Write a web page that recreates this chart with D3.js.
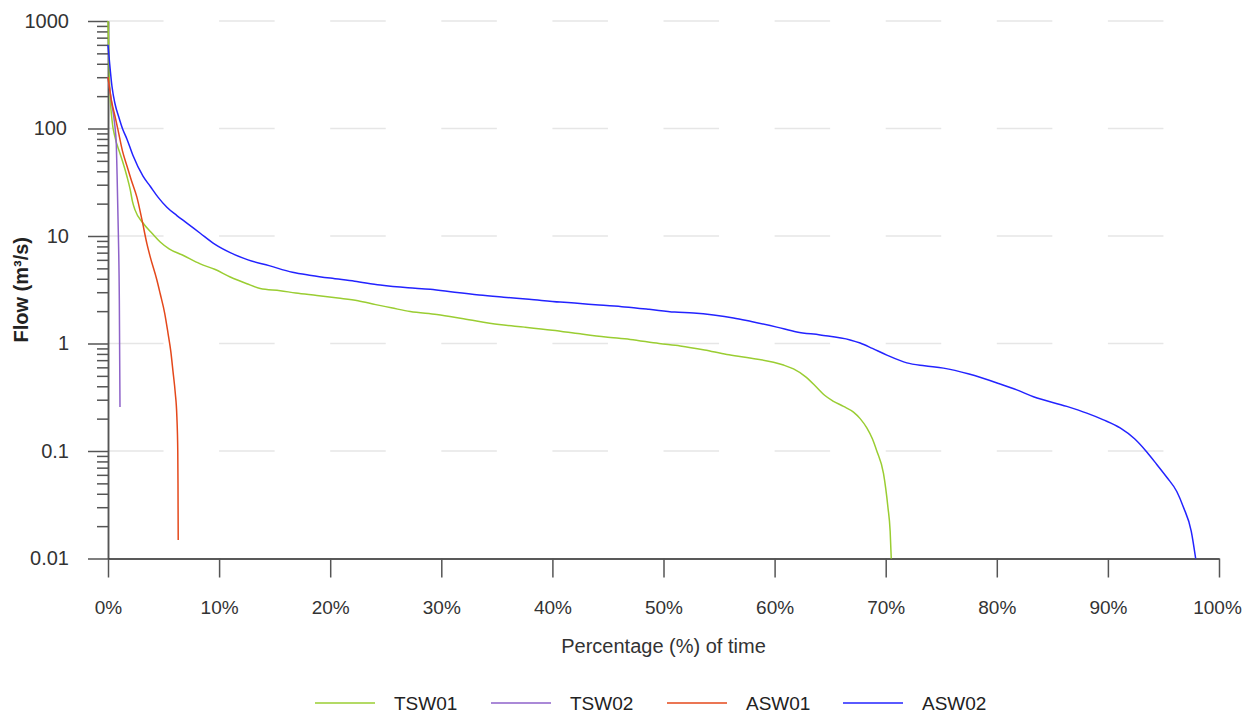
<!DOCTYPE html>
<html>
<head>
<meta charset="utf-8">
<script src="https://cdn.jsdelivr.net/npm/d3@7"></script>
<style>
  body { margin: 0; background: #fff; }
  svg { display: block; font-family: "Liberation Sans", Arial, sans-serif; }
</style>
</head>
<body>
<svg id="chart" width="1243" height="715"></svg>
<script>
/*
** Chart data (percentage of time exceeded, flow in m3/s)
*/
var seriesNames  = ["TSW01", "TSW02", "ASW01", "ASW02"];
var seriesColors = ["#9ACD32", "#8E62C9", "#E4481B", "#2323FF"];

var tsw01 = [
    [0, 1000], [0.05, 600], [0.15, 250], [0.36, 120], [0.63, 83], [1.0, 62]
  , [1.35, 48], [1.7, 36], [2.0, 27], [2.2, 21], [2.43, 17.5], [3.15, 13.2]
  , [4.0, 10.5], [4.7, 8.8], [5.5, 7.6], [6.7, 6.65], [8.3, 5.5], [9.6, 4.9]
  , [11.0, 4.16], [12.5, 3.6], [13.7, 3.25], [15.5, 3.1], [16.9, 2.95]
  , [18.8, 2.8], [20.7, 2.65], [22.5, 2.5], [24.1, 2.3], [25.5, 2.15]
  , [27.2, 1.98], [29.6, 1.86], [32, 1.7], [35.2, 1.5], [37.5, 1.42]
  , [40.0, 1.33], [42.5, 1.23], [44.8, 1.15], [47, 1.09], [49.6, 1.0]
  , [51.5, 0.95], [53.7, 0.87], [55.7, 0.79], [57.5, 0.74], [59.9, 0.67]
  , [60.8, 0.63], [61.7, 0.58], [62.8, 0.49], [63.8, 0.39], [64.5, 0.33]
  , [65.3, 0.29], [66.2, 0.26], [67.1, 0.23], [67.7, 0.2], [68.3, 0.164]
  , [68.8, 0.13], [69.2, 0.10], [69.8, 0.062], [70.2, 0.030], [70.4, 0.018]
  , [70.5, 0.01]
];
var tsw02 = [
    [0, 300], [0.3, 180], [0.6, 110], [0.75, 70], [0.8, 44], [0.93, 10.7]
  , [1.02, 2.54], [1.08, 0.257]
];
var asw01 = [
    [0, 300], [0.3, 185], [0.63, 130], [0.9, 97], [1.3, 62], [1.7, 45]
  , [2.1, 33], [2.6, 23], [3.06, 14.1], [3.5, 8.5], [3.8, 6.4], [4.4, 3.9]
  , [4.7, 2.9], [5.1, 1.92], [5.4, 1.25], [5.65, 0.85], [5.85, 0.55]
  , [6.05, 0.35], [6.2, 0.207], [6.28, 0.1], [6.3, 0.05], [6.32, 0.0149]
];
var asw02 = [
    [0, 600], [0.15, 400], [0.35, 250], [0.63, 170], [1.0, 125], [1.3, 100]
  , [1.7, 80], [2.25, 56], [3.15, 36], [3.8, 29], [4.5, 23], [5.3, 18.5]
  , [6.2, 15.5], [7.1, 13.2], [8.3, 10.6], [9.6, 8.4], [11.0, 7.0], [12.6, 6.0]
  , [14.5, 5.3], [16.6, 4.6], [18.3, 4.3], [20.0, 4.06], [22.2, 3.8]
  , [24.5, 3.5], [27, 3.3], [29.0, 3.2], [31.2, 3.0], [33.4, 2.83]
  , [35.6, 2.7], [37.9, 2.58], [40.7, 2.43], [42.0, 2.38], [44.2, 2.28]
  , [46.5, 2.19], [48.7, 2.08], [51.0, 1.96], [52.7, 1.92], [54.5, 1.84]
  , [56.3, 1.73], [57.9, 1.6], [60.2, 1.42], [62.0, 1.28], [64.1, 1.2]
  , [66.8, 1.08], [67.7, 1.01], [68.8, 0.9], [70.1, 0.78], [71.9, 0.66]
  , [73.5, 0.62], [75.2, 0.59], [77.5, 0.52], [80.3, 0.42], [81.8, 0.37]
  , [83.3, 0.32], [86.3, 0.26], [88.1, 0.225], [89.6, 0.195], [91.1, 0.164]
  , [92.4, 0.13], [93.5, 0.098], [94.4, 0.075], [95.3, 0.057], [96.2, 0.042]
  , [96.8, 0.03], [97.5, 0.018], [97.9, 0.01]
];

var xTickValues = [0, 10, 20, 30, 40, 50, 60, 70, 80, 90, 100];
var yTickValues = [1000, 100, 10, 1, 0.1, 0.01];
var yTickLabels = ["1000", "100", "10", "1", "0.1", "0.01"];
var gridValues  = [1000, 100, 10, 1, 0.1];

function FlowDurationChart() {
  /*
  ** Private Variables
  */
  var svg
    , data
    , width = 1243
    , height = 715
    , margin = { top: 21, right: 24, bottom: 156.5, left: 108 }
    , x = d3.scaleLinear()
    , y = d3.scaleLog()
    , xAxis = d3.axisBottom()
    , yAxis = d3.axisLeft()
    , yMinorAxis = d3.axisLeft()
    , line = d3.line()
    , inkColor = "#333"
  ;

  /*
  ** Main Function Object
  */
  function my() {
      var innerW = width - margin.left - margin.right
        , innerH = height - margin.top - margin.bottom
        , g
        , minor = []
        , half
      ;
      x.domain([0, 100]).range([0, innerW]);
      y.domain([0.01, 1000]).range([innerH, 0]);
      half = x(5) - x(0);

      yTickValues.slice(1).forEach(function(v) {
          for(var k = 2; k < 10; k++) minor.push(v * k);
        });

      g = svg.append("g")
          .attr("transform", "translate(" + margin.left + "," + margin.top + ")")
      ;

      // dashed horizontal grid, one dash per half decade of %
      g.append("g")
          .selectAll("line")
          .data(gridValues)
        .enter().append("line")
          .attr("x1", 0)
          .attr("x2", innerW)
          .attr("y1", function(d) { return y(d); })
          .attr("y2", function(d) { return y(d); })
          .attr("stroke", "#e6e6e6")
          .attr("stroke-width", 1.5)
          .attr("stroke-dasharray", half + " " + half)
      ;

      yMinorAxis.scale(y)
          .tickValues(minor)
          .tickSize(11)
          .tickSizeOuter(0)
          .tickFormat("")
      ;
      g.append("g").call(yMinorAxis).call(styleAxis, 20);

      yAxis.scale(y)
          .tickValues(yTickValues)
          .tickSize(20)
          .tickSizeOuter(0)
          .tickPadding(19)
          .tickFormat(function(d, i) { return yTickLabels[i]; })
      ;
      g.append("g").call(yAxis).call(styleAxis, 20);

      xAxis.scale(x)
          .tickValues(xTickValues)
          .tickSize(19)
          .tickSizeOuter(0)
          .tickPadding(23)
          .tickFormat(function(d) { return d + "%"; })
      ;
      g.append("g")
          .attr("transform", "translate(0," + innerH + ")")
          .call(xAxis)
          .call(styleAxis, 19)
        .select(".domain")
          .attr("stroke", "#222")
          .attr("stroke-width", 1.3)
      ;
      // keep the last label inside the page
      g.selectAll(".tick text")
          .filter(function(d) { return d === 100; })
          .attr("dx", -2)
      ;

      // flow duration curves
      line
          .x(function(d) { return x(d[0]); })
          .y(function(d) { return y(d[1]); })
          .curve(d3.curveMonotoneX)
      ;
      g.append("g")
          .selectAll("path")
          .data(data)
        .enter().append("path")
          .attr("d", function(d) { return line(d.values); })
          .attr("fill", "none")
          .attr("stroke", function(d) { return d.color; })
          .attr("stroke-width", 1.5)
      ;

      // axis titles
      svg.append("text")
          .attr("x", margin.left + innerW / 2)
          .attr("y", 653)
          .attr("text-anchor", "middle")
          .attr("font-size", 20)
          .attr("fill", inkColor)
          .text("Percentage (%) of time")
      ;
      svg.append("text")
          .attr("transform", "translate(28," + (margin.top + innerH / 2) + ") rotate(-90)")
          .attr("text-anchor", "middle")
          .attr("font-size", 20)
          .attr("font-weight", "bold")
          .attr("fill", "#222")
          .text("Flow (m³/s)")
      ;

      legendRender(svg.append("g"));
  } // my() - Main function object

  /*
  ** Helper Functions
  */
  function styleAxis(selection, fontSize) {
      selection.select(".domain")
          .attr("stroke", "#555")
          .attr("stroke-width", 1.5)
      ;
      selection.selectAll(".tick line")
          .attr("stroke", "#555")
          .attr("stroke-width", 1.5)
      ;
      selection.selectAll(".tick text")
          .attr("font-size", fontSize)
          .attr("fill", inkColor)
          .attr("font-family", "Liberation Sans, Arial, sans-serif")
      ;
  } // styleAxis()

  function legendRender(selection) {
      var lx = d3.scaleBand()
            .domain(data.map(function(d) { return d.name; }))
            .range([315, 315 + 176 * data.length])
        , items
      ;
      items = selection.selectAll("g")
          .data(data)
        .enter().append("g")
          .attr("transform", function(d) { return "translate(" + lx(d.name) + ",703)"; })
      ;
      items.append("line")
          .attr("x1", 0)
          .attr("x2", 60)
          .attr("stroke", function(d) { return d.color; })
          .attr("stroke-width", 2)
          .attr("stroke-opacity", 0.75)
      ;
      items.append("text")
          .attr("x", 79)
          .attr("dy", "0.35em")
          .attr("font-size", 19)
          .attr("fill", "#222")
          .text(function(d) { return d.name; })
      ;
  } // legendRender()

  /*
  ** API (Getter/Setter) Functions
  */
  my.svg = function(_) {
      if(!arguments.length) return svg;
      svg = _;
      return my;
    } // my.svg()
  ;
  my.data = function(_) {
      if(!arguments.length) return data;
      data = _;
      return my;
    } // my.data()
  ;

  return my;
} // FlowDurationChart()

var chart = FlowDurationChart()
    .svg(d3.select("#chart"))
    .data([tsw01, tsw02, asw01, asw02].map(function(v, i) {
        return { name: seriesNames[i], color: seriesColors[i], values: v };
      }))
;
chart();
</script>
</body>
</html>
